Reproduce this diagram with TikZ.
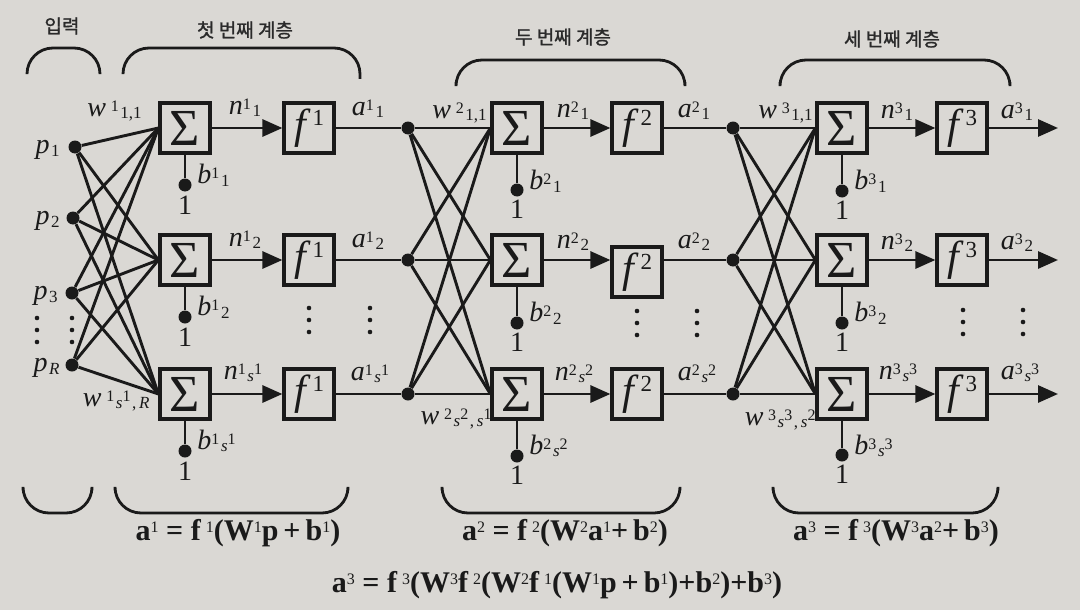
\documentclass[tikz,border=0pt]{standalone}
\usepackage{fontspec}
\setmainfont{Liberation Serif}
\newfontfamily\krfont{Noto Sans CJK KR}[FakeBold=1.3]
\usetikzlibrary{arrows.meta}
\definecolor{paper}{HTML}{DAD8D4}
\definecolor{ink}{HTML}{1A1A1A}
\definecolor{krink}{HTML}{2A2A2A}
\newcommand{\lup}[1]{\raisebox{2.4pt}{\fontsize{8}{8}\selectfont\upshape #1}}
\newcommand{\ldn}[1]{\hspace{0.8pt}\raisebox{-1.3pt}{\fontsize{8.5}{8.5}\selectfont\upshape #1}}
\newcommand{\eqsp}[1]{\raisebox{4pt}{\fontsize{8}{8}\selectfont\mdseries #1}}
\newcommand{\fsup}[1]{\hspace{1pt}\raisebox{6.5pt}{\fontsize{11.5}{11.5}\selectfont\upshape #1}}
\begin{document}
\begin{tikzpicture}[x=0.5pt,y=-0.5pt,
  sumbox/.style={draw=ink,line width=1.6pt,minimum width=25pt,minimum height=25pt,inner sep=0pt,font=\fontsize{26}{26}\selectfont,text=ink},
  actbox/.style={draw=ink,line width=1.6pt,minimum width=25pt,minimum height=25pt,inner sep=0pt,font=\fontsize{21}{21}\selectfont,text=ink},
  ndot/.style={circle,fill=ink,inner sep=0pt,minimum size=6.5pt},
  vd/.style={circle,fill=ink,inner sep=0pt,minimum size=2.3pt},
  wire/.style={draw=ink,line width=1.45pt},
  arr/.style={wire,-{Triangle[length=10pt,width=8.5pt]}},
  lab/.style={font=\fontsize{14}{16}\selectfont,text=ink,inner sep=0pt},
  brk/.style={draw=ink,line width=1.4pt,rounded corners=13pt},
  krlab/.style={font=\krfont\fontsize{9.5}{11}\selectfont,text=krink},
  eqn/.style={font=\bfseries\fontsize{15}{17}\selectfont,text=ink,inner sep=0pt}
]
\fill[paper] (0,0) rectangle (1080,610);
\useasboundingbox (0,0) rectangle (1080,610);

% ---------- headings and top brackets
\node[krlab] (kin) at (62,26) {입력};
\node[krlab] (k1) at (245,30) {첫 번째 계층};
\node[krlab] (k2) at (563,37) {두 번째 계층};
\node[krlab] (k3) at (892,39) {세 번째 계층};
\draw[brk] (27,73) -- (27,48) -- (100,48) -- (100,73);
\draw[brk] (123,73) -- (123,48) -- (360,48) -- (360,79);
\draw[brk] (456,82) -- (456,60) -- (685,60) -- (685,82);
\draw[brk] (780,82) -- (780,60) -- (1010,60) -- (1010,82);

% ---------- inputs
\node[ndot] (p1) at (75,147) {};
\node[ndot] (p2) at (73,218) {};
\node[ndot] (p3) at (72,293) {};
\node[ndot] (pR) at (72,365) {};
\node[lab,anchor=east] (lp1) at (60,150) {\textit{p}\ldn{1}};
\node[lab,anchor=east] (lp2) at (60,221) {\textit{p}\ldn{2}};
\node[lab,anchor=east] (lp3) at (58,296) {\textit{p}\ldn{3}};
\node[lab,anchor=east] (lpR) at (60,368) {\textit{p}\ldn{\textit{R}}};
\foreach \y [count=\k] in {318,330,342} {
  \node[vd] (vin\k) at (37,\y) {};
  \node[vd] (vdt\k) at (72,\y) {};
}

% ---------- layer 1
\node[sumbox] (s11) at (185,128) {Σ};
\node[sumbox] (s12) at (185,260) {Σ};
\node[sumbox] (s13) at (185,394) {Σ};
\node[actbox] (f11) at (309,128) {\textit{f}\fsup{1}};
\node[actbox] (f12) at (309,260) {\textit{f}\fsup{1}};
\node[actbox] (f13) at (309,394) {\textit{f}\fsup{1}};
\foreach \p in {p1,p2,p3,pR} \foreach \s in {s11,s12,s13} \draw[wire] (\p) -- (\s.west);
\foreach \r in {1,2,3} \draw[arr] (s1\r.east) -- (f1\r.west);
\node[ndot] (b11) at (185,185) {};
\node[ndot] (b12) at (185,317) {};
\node[ndot] (b13) at (185,451) {};
\foreach \r in {1,2,3} \draw[wire] (s1\r.south) -- (b1\r);
\node[lab] (one11) at (185,205) {1};
\node[lab] (one12) at (185,337) {1};
\node[lab] (one13) at (185,471) {1};
\node[lab,anchor=east] (w1a) at (142,111) {\textit{w}\,\lup{1}\ldn{1,1}};
\node[lab,anchor=east] (w1b) at (150,401) {\textit{w}\,\lup{1}\ldn{\textit{s}}\lup{1}\ldn{,\,\textit{R}}};
\node[lab] (n11) at (245,108) {\textit{n}\lup{1}\ldn{1}};
\node[lab] (n12) at (245,240) {\textit{n}\lup{1}\ldn{2}};
\node[lab] (n13) at (243,373) {\textit{n}\lup{1}\ldn{\textit{s}}\lup{1}};
\node[lab,anchor=west] (bl11) at (197,175) {\textit{b}\lup{1}\ldn{1}};
\node[lab,anchor=west] (bl12) at (197,307) {\textit{b}\lup{1}\ldn{2}};
\node[lab,anchor=west] (bl13) at (197,441) {\textit{b}\lup{1}\ldn{\textit{s}}\lup{1}};
\node[lab] (a11) at (368,109) {\textit{a}\lup{1}\ldn{1}};
\node[lab] (a12) at (368,241) {\textit{a}\lup{1}\ldn{2}};
\node[lab] (a13) at (370,374) {\textit{a}\lup{1}\ldn{\textit{s}}\lup{1}};
\foreach \y [count=\k] in {308,320,332} {
  \node[vd] (vf1\k) at (309,\y) {};
  \node[vd] (va1\k) at (370,\y) {};
}

% ---------- layer 2
\node[ndot] (d21) at (408,128) {};
\node[ndot] (d22) at (408,260) {};
\node[ndot] (d23) at (408,394) {};
\foreach \r in {1,2,3} \draw[wire] (f1\r.east) -- (d2\r);
\node[sumbox] (s21) at (517,128) {Σ};
\node[sumbox] (s22) at (517,260) {Σ};
\node[sumbox] (s23) at (517,394) {Σ};
\node[actbox] (f21) at (637,128) {\textit{f}\fsup{2}};
\node[actbox] (f22) at (637,272) {\textit{f}\fsup{2}};
\node[actbox] (f23) at (637,394) {\textit{f}\fsup{2}};
\foreach \d in {d21,d22,d23} \foreach \s in {s21,s22,s23} \draw[wire] (\d) -- (\s.west);
\draw[arr] (s21.east) -- (f21.west);
\draw[arr] (s22.east) -- (s22.east -| f22.west);
\draw[arr] (s23.east) -- (f23.west);
\node[ndot] (b21) at (517,190) {};
\node[ndot] (b22) at (517,323) {};
\node[ndot] (b23) at (517,456) {};
\foreach \r in {1,2,3} \draw[wire] (s2\r.south) -- (b2\r);
\node[lab] (one21) at (517,209) {1};
\node[lab] (one22) at (517,342) {1};
\node[lab] (one23) at (517,475) {1};
\node[lab,anchor=east] (w2a) at (487,113) {\textit{w}\,\lup{2}\ldn{1,1}};
\node[lab,anchor=east] (w2b) at (492,419) {\textit{w}\,\lup{2}\ldn{\textit{s}}\lup{2}\ldn{,\,\textit{s}}\lup{1}};
\node[lab] (n21) at (573,111) {\textit{n}\lup{2}\ldn{1}};
\node[lab] (n22) at (573,242) {\textit{n}\lup{2}\ldn{2}};
\node[lab] (n23) at (574,374) {\textit{n}\lup{2}\ldn{\textit{s}}\lup{2}};
\node[lab,anchor=west] (bl21) at (529,181) {\textit{b}\lup{2}\ldn{1}};
\node[lab,anchor=west] (bl22) at (529,313) {\textit{b}\lup{2}\ldn{2}};
\node[lab,anchor=west] (bl23) at (529,446) {\textit{b}\lup{2}\ldn{\textit{s}}\lup{2}};
\node[lab] (a21) at (694,111) {\textit{a}\lup{2}\ldn{1}};
\node[lab] (a22) at (694,242) {\textit{a}\lup{2}\ldn{2}};
\node[lab] (a23) at (697,374) {\textit{a}\lup{2}\ldn{\textit{s}}\lup{2}};
\foreach \y [count=\k] in {311,323,335} {
  \node[vd] (vf2\k) at (637,\y) {};
  \node[vd] (va2\k) at (697,\y) {};
}

% ---------- layer 3
\node[ndot] (d31) at (733,128) {};
\node[ndot] (d32) at (733,260) {};
\node[ndot] (d33) at (733,394) {};
\draw[wire] (f21.east) -- (d31);
\draw[wire] (f22.east |- d32) -- (d32);
\draw[wire] (f23.east) -- (d33);
\node[sumbox] (s31) at (842,128) {Σ};
\node[sumbox] (s32) at (842,260) {Σ};
\node[sumbox] (s33) at (842,394) {Σ};
\node[actbox] (f31) at (962,128) {\textit{f}\fsup{3}};
\node[actbox] (f32) at (962,260) {\textit{f}\fsup{3}};
\node[actbox] (f33) at (962,394) {\textit{f}\fsup{3}};
\foreach \d in {d31,d32,d33} \foreach \s in {s31,s32,s33} \draw[wire] (\d) -- (\s.west);
\foreach \r in {1,2,3} \draw[arr] (s3\r.east) -- (f3\r.west);
\coordinate (q31) at (1058,128);
\coordinate (q32) at (1058,260);
\coordinate (q33) at (1058,394);
\foreach \r in {1,2,3} \draw[arr] (f3\r.east) -- (q3\r);
\node[ndot] (b31) at (842,191) {};
\node[ndot] (b32) at (842,323) {};
\node[ndot] (b33) at (842,455) {};
\foreach \r in {1,2,3} \draw[wire] (s3\r.south) -- (b3\r);
\node[lab] (one31) at (842,210) {1};
\node[lab] (one32) at (842,342) {1};
\node[lab] (one33) at (842,474) {1};
\node[lab,anchor=east] (w3a) at (813,113) {\textit{w}\,\lup{3}\ldn{1,1}};
\node[lab,anchor=east] (w3b) at (816,420) {\textit{w}\,\lup{3}\ldn{\textit{s}}\lup{3}\ldn{,\,\textit{s}}\lup{2}};
\node[lab] (n31) at (897,112) {\textit{n}\lup{3}\ldn{1}};
\node[lab] (n32) at (897,243) {\textit{n}\lup{3}\ldn{2}};
\node[lab] (n33) at (898,373) {\textit{n}\lup{3}\ldn{\textit{s}}\lup{3}};
\node[lab,anchor=west] (bl31) at (854,181) {\textit{b}\lup{3}\ldn{1}};
\node[lab,anchor=west] (bl32) at (854,313) {\textit{b}\lup{3}\ldn{2}};
\node[lab,anchor=west] (bl33) at (854,446) {\textit{b}\lup{3}\ldn{\textit{s}}\lup{3}};
\node[lab] (a31) at (1017,112) {\textit{a}\lup{3}\ldn{1}};
\node[lab] (a32) at (1017,243) {\textit{a}\lup{3}\ldn{2}};
\node[lab] (a33) at (1020,373) {\textit{a}\lup{3}\ldn{\textit{s}}\lup{3}};
\foreach \y [count=\k] in {310,322,334} {
  \node[vd] (vf3\k) at (963,\y) {};
  \node[vd] (va3\k) at (1023,\y) {};
}

% ---------- bottom brackets and equations
\draw[brk] (23,490) -- (23,513) -- (92,513) -- (92,490);
\draw[brk] (115,490) -- (115,513) -- (348,513) -- (348,490);
\draw[brk] (442,490) -- (442,513) -- (680,513) -- (680,490);
\draw[brk] (773,490) -- (773,513) -- (998,513) -- (998,490);
\node[eqn] (e1) at (238,533) {a\eqsp{1} = f\,\eqsp{1}(W\eqsp{1}p\,+\,b\eqsp{1})};
\node[eqn] (e2) at (565,533) {a\eqsp{2} = f\,\eqsp{2}(W\eqsp{2}a\eqsp{1}+\,b\eqsp{2})};
\node[eqn] (e3) at (896,533) {a\eqsp{3} = f\,\eqsp{3}(W\eqsp{3}a\eqsp{2}+\,b\eqsp{3})};
\node[eqn] (e4) at (557,585) {a\eqsp{3} = f\,\eqsp{3}(W\eqsp{3}f\,\eqsp{2}(W\eqsp{2}f\,\eqsp{1}(W\eqsp{1}p\,+\,b\eqsp{1})+b\eqsp{2})+b\eqsp{3})};
\end{tikzpicture}
\end{document}
